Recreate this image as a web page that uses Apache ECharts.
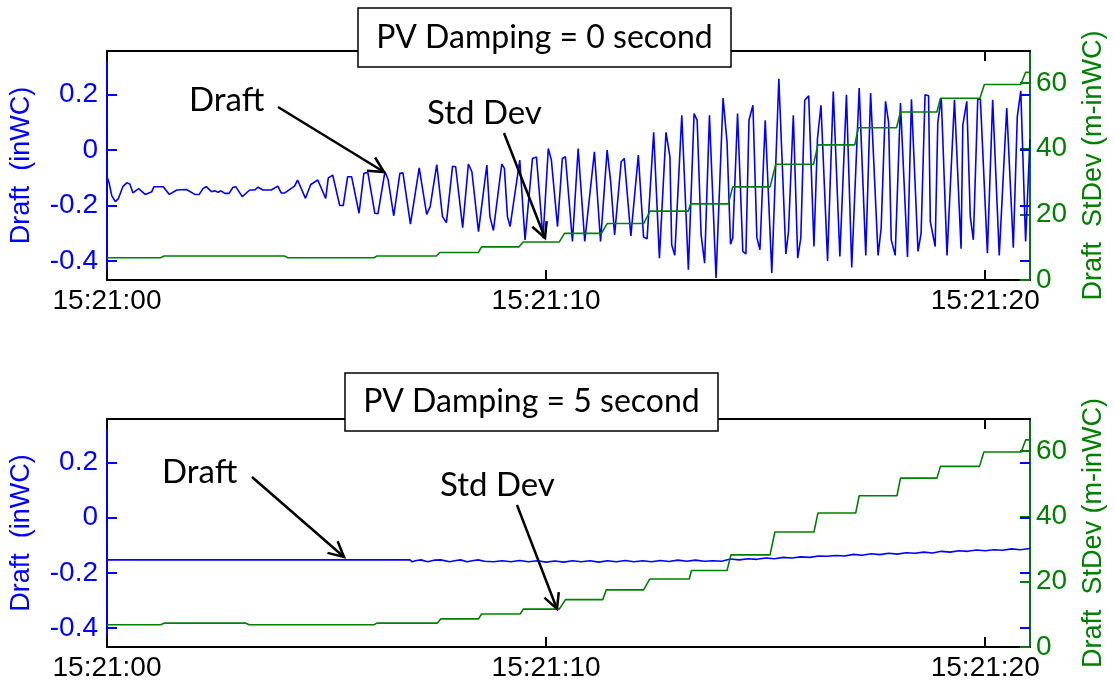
<!DOCTYPE html>
<html><head><meta charset="utf-8">
<script src="https://cdn.jsdelivr.net/npm/echarts@6/dist/echarts.min.js"></script>
<style>html,body{margin:0;padding:0;background:#fff}#c{width:1115px;height:683px}</style>
</head><body><div id="c"></div>
<script>
// ---- tick positions / labels ----
const timeTicks = [0, 10, 20];
const timeTickLabels = ['15:21:00', '15:21:10', '15:21:20'];
const draftTicks = [-0.4, -0.2, 0, 0.2];
const stdTicks = [0, 20, 40, 60];
const panelTitles = ['PV Damping = 0 second', 'PV Damping = 5 second'];

// ---- top panel (damping 0 s): Draft (inWC) ----
const topDraftT = [0.00,0.05,0.11,0.19,0.26,0.36,0.45,0.52,0.59,0.72,0.87,1.02,1.07,1.28,1.42,1.59,1.81,2.00,2.10,2.19,2.26,2.38,2.45,2.53,2.60,2.68,2.78,2.87,2.93,3.08,3.25,3.36,3.44,3.55,3.74,3.89,3.97,4.04,4.27,4.34,4.52,4.64,4.80,4.98,5.04,5.14,5.30,5.38,5.48,5.57,5.74,5.85,5.94,6.10,6.17,6.33,6.40,6.53,6.67,6.74,6.91,7.11,7.28,7.36,7.51,7.64,7.73,7.87,7.94,8.10,8.23,8.31,8.46,8.65,8.72,8.80,8.99,9.05,9.12,9.18,9.40,9.52,9.56,9.69,9.78,9.93,10.05,10.12,10.26,10.37,10.44,10.60,10.73,10.88,11.10,11.24,11.39,11.47,11.56,11.71,11.78,11.93,12.10,12.22,12.30,12.45,12.58,12.73,12.82,12.86,12.93,13.09,13.24,13.37,13.44,13.53,13.61,13.72,13.87,14.03,14.12,14.20,14.25,14.36,14.48,14.55,14.62,14.71,14.80,14.87,14.99,15.14,15.30,15.46,15.52,15.63,15.73,15.80,15.89,15.98,16.10,16.18,16.26,16.41,16.54,16.69,16.84,16.96,17.13,17.28,17.39,17.56,17.63,17.73,17.80,17.86,17.95,18.07,18.23,18.32,18.47,18.54,18.63,18.71,18.75,18.86,18.92,19.00,19.13,19.30,19.45,19.49,19.58,19.66,19.73,19.83,19.89,20.05,20.17,20.32,20.49,20.64,20.73,20.81,20.92,21.02];
const topDraftV = [-0.096,-0.120,-0.165,-0.186,-0.175,-0.132,-0.118,-0.122,-0.154,-0.139,-0.160,-0.150,-0.132,-0.132,-0.160,-0.144,-0.142,-0.160,-0.160,-0.138,-0.132,-0.150,-0.147,-0.152,-0.147,-0.156,-0.156,-0.134,-0.132,-0.168,-0.144,-0.144,-0.134,-0.144,-0.144,-0.130,-0.155,-0.155,-0.130,-0.108,-0.174,-0.124,-0.108,-0.174,-0.100,-0.090,-0.200,-0.200,-0.096,-0.096,-0.228,-0.084,-0.080,-0.228,-0.230,-0.078,-0.105,-0.237,-0.084,-0.082,-0.267,-0.064,-0.232,-0.204,-0.052,-0.240,-0.262,-0.058,-0.060,-0.280,-0.050,-0.078,-0.294,-0.054,-0.240,-0.290,-0.050,-0.066,-0.240,-0.276,-0.036,-0.324,-0.324,-0.030,-0.025,-0.318,0.006,-0.036,-0.276,-0.030,-0.024,-0.330,0.006,-0.330,-0.006,-0.330,0.000,-0.114,-0.306,-0.042,-0.030,-0.310,-0.018,-0.314,-0.320,0.064,-0.390,0.064,-0.024,-0.342,-0.380,0.126,-0.432,0.132,0.108,-0.306,-0.408,0.126,-0.462,0.188,0.030,-0.340,-0.317,0.132,-0.366,-0.375,0.108,0.162,-0.316,-0.360,0.108,-0.444,0.258,-0.375,-0.294,0.126,-0.390,-0.318,0.180,0.196,-0.348,0.042,0.162,-0.400,0.212,-0.384,0.200,-0.424,0.224,-0.380,0.206,-0.380,-0.282,0.176,0.100,-0.324,-0.380,0.170,-0.386,0.184,-0.366,-0.300,0.200,0.196,-0.258,-0.348,0.100,0.188,-0.380,0.182,-0.356,0.090,0.176,-0.240,-0.324,0.184,0.184,-0.372,0.182,-0.380,0.152,-0.352,0.120,0.214,-0.330,0.040];

// ---- top panel: Draft StDev (m-inWC) ----
const topStdT = [0,1.22,1.30,4.04,4.12,6.08,6.15,7.50,7.58,8.46,8.53,9.38,9.48,10.30,10.42,11.26,11.39,12.22,12.37,13.24,13.29,14.15,14.25,15.10,15.23,16.09,16.19,17.03,17.11,17.98,18.07,18.90,18.98,19.88,19.98,20.81,20.92,21.02];
const topStdV = [6.8,6.8,7.3,7.3,6.8,6.8,7.3,7.3,8.4,8.4,10.1,10.1,11.6,11.6,14.2,14.2,17.2,17.2,21.0,21.0,23.2,23.2,28.4,28.4,35.3,35.3,41.2,41.2,46.4,46.4,51.2,51.2,55.4,55.4,59.6,59.6,63.3,63.3];

// ---- bottom panel (damping 5 s): Draft (inWC) ----
const botDraftT = [0,6.90,6.95,7.05,7.15,7.30,7.45,7.60,7.80,7.95,8.05,8.20,8.35,8.45,8.60,8.80,9.00,9.20,9.40,9.60,9.80,10.00,10.20,10.40,10.60,10.80,11.00,11.20,11.40,11.60,11.80,12.00,12.20,12.40,12.60,12.80,13.00,13.20,13.40,13.60,13.80,14.00,14.20,14.40,14.60,14.80,15.00,15.20,15.40,15.60,15.80,16.00,16.20,16.40,16.60,16.80,17.00,17.20,17.40,17.60,17.80,18.00,18.20,18.40,18.60,18.80,19.00,19.20,19.40,19.60,19.80,20.00,20.20,20.40,20.60,20.80,21.02];
const botDraftV = [-0.153,-0.153,-0.160,-0.155,-0.153,-0.160,-0.154,-0.153,-0.160,-0.155,-0.153,-0.160,-0.155,-0.153,-0.158,-0.160,-0.156,-0.160,-0.155,-0.160,-0.156,-0.161,-0.157,-0.161,-0.156,-0.160,-0.156,-0.161,-0.156,-0.160,-0.155,-0.160,-0.156,-0.160,-0.155,-0.159,-0.154,-0.158,-0.154,-0.158,-0.156,-0.158,-0.150,-0.153,-0.149,-0.151,-0.146,-0.149,-0.144,-0.146,-0.142,-0.144,-0.139,-0.140,-0.137,-0.139,-0.133,-0.136,-0.131,-0.134,-0.129,-0.132,-0.127,-0.129,-0.125,-0.128,-0.122,-0.125,-0.120,-0.122,-0.117,-0.120,-0.116,-0.118,-0.113,-0.116,-0.112];

// ---- bottom panel: Draft StDev (m-inWC) ----
const botStdT = [0,1.22,1.30,3.16,3.24,6.08,6.15,7.52,7.60,8.46,8.53,9.41,9.48,10.30,10.44,11.29,11.37,12.22,12.36,13.26,13.31,14.12,14.21,15.10,15.21,16.10,16.19,17.05,17.13,17.99,18.07,18.90,18.98,19.87,19.97,20.82,20.92,21.02];
const botStdV = [6.8,6.8,7.3,7.3,6.8,6.8,7.3,7.3,8.6,8.6,10.1,10.1,11.6,11.6,14.5,14.5,17.5,17.5,20.8,20.8,23.4,23.4,28.2,28.2,35.2,35.2,41.0,41.0,46.3,46.3,51.7,51.7,55.3,55.3,59.7,59.7,63.4,63.4];

const BLUE = '#0000ff', GREEN = '#008000', GREEN_AX = '#0b6e1a';
const TICKFONT = 'Liberation Sans';
const pair = (t, v) => t.map((x, i) => [x, v[i]]);

const grids = [
  {left: 107, right: 80, top: 51, height: 229},
  {left: 107, right: 80, top: 419, height: 228}
];
const X_MAX = 21.02, D_MIN = -0.469, D_MAX = 0.358, S_MAX = 69.8;

const xAxes = [], yAxes = [];
grids.forEach((g, i) => {
  xAxes.push({
    type: 'value', gridIndex: i, position: 'bottom', min: 0, max: X_MAX,
    axisLine: {onZero: false, lineStyle: {color: '#000', width: 2}},
    axisTick: {inside: true, length: 10, customValues: timeTicks, lineStyle: {color: '#000', width: 2}},
    axisLabel: {customValues: timeTicks, formatter: v => timeTickLabels[timeTicks.indexOf(v)],
      color: '#000', fontSize: 28, fontFamily: TICKFONT, margin: 7},
    splitLine: {show: false}
  });
  xAxes.push({
    type: 'value', gridIndex: i, position: 'top', min: 0, max: X_MAX,
    axisLine: {onZero: false, lineStyle: {color: '#000', width: 2}},
    axisTick: {inside: true, length: 10, customValues: timeTicks, lineStyle: {color: '#000', width: 2}},
    axisLabel: {show: false}, splitLine: {show: false}
  });
  yAxes.push({
    type: 'value', gridIndex: i, position: 'left', min: D_MIN, max: D_MAX,
    axisLine: {show: true, onZero: false, lineStyle: {color: BLUE, width: 2}},
    axisTick: {show: true, inside: true, length: 10, customValues: draftTicks, lineStyle: {color: BLUE, width: 2}},
    axisLabel: {customValues: draftTicks, formatter: v => (Math.abs(v) < 1e-9 ? '0' : v.toFixed(1)),
      color: BLUE, fontSize: 28, fontFamily: TICKFONT, margin: 9},
    name: 'Draft  (inWC)', nameLocation: 'middle', nameGap: 72, nameRotate: 90,
    nameTextStyle: {color: BLUE, fontSize: 27, fontFamily: TICKFONT},
    splitLine: {show: false}
  });
  yAxes.push({
    type: 'value', gridIndex: i, position: 'right', min: 0, max: S_MAX,
    axisLine: {show: true, onZero: false, lineStyle: {color: GREEN_AX, width: 2}},
    axisTick: {show: true, inside: true, length: 10, customValues: stdTicks, lineStyle: {color: GREEN, width: 2}},
    axisLabel: {customValues: stdTicks, color: GREEN, fontSize: 28, fontFamily: TICKFONT, margin: 6},
    name: 'Draft  StDev (m-inWC)', nameLocation: 'middle', nameGap: 50, nameRotate: 90,
    nameTextStyle: {color: GREEN, fontSize: 27, fontFamily: TICKFONT},
    splitLine: {show: false}
  });
  yAxes.push({
    type: 'value', gridIndex: i, position: 'right', min: D_MIN, max: D_MAX,
    axisLine: {show: false, onZero: false},
    axisTick: {show: true, inside: true, length: 10, customValues: draftTicks, lineStyle: {color: BLUE, width: 2}},
    axisLabel: {show: false}, splitLine: {show: false}
  });
});

const lineSeries = (data, xi, yi, color, w) => ({
  type: 'line', xAxisIndex: xi, yAxisIndex: yi, data: data, symbol: 'none',
  lineStyle: {color: color, width: w}, itemStyle: {color: color}, silent: true, z: 3
});

function arrow(x1, y1, x2, y2) {
  const ang = Math.atan2(y1 - y2, x1 - x2), L = 17, a = 27 * Math.PI / 180;
  const style = {stroke: '#000', lineWidth: 2.5, fill: null};
  return [
    {type: 'line', shape: {x1: x1, y1: y1, x2: x2, y2: y2}, style: style, z: 100},
    {type: 'polyline', shape: {points: [
      [x2 + L * Math.cos(ang + a), y2 + L * Math.sin(ang + a)], [x2, y2],
      [x2 + L * Math.cos(ang - a), y2 + L * Math.sin(ang - a)]]}, style: style, z: 100}
  ];
}
function label(text, x, y) {
  return {type: 'text', x: x, y: y, z: 100,
    style: {text: text, fill: '#000', font: '33px Lato', textAlign: 'left', textVerticalAlign: 'middle'}};
}
function titleBox(text, x, y, w, h) {
  return [
    {type: 'rect', shape: {x: x, y: y, width: w, height: h}, style: {fill: '#fff', stroke: '#000', lineWidth: 1.5}, z: 100},
    {type: 'text', x: x + w / 2, y: y + h / 2, z: 101,
      style: {text: text, fill: '#000', font: '32px Lato', textAlign: 'center', textVerticalAlign: 'middle'}}
  ];
}

const chart = echarts.init(document.getElementById('c'), null, {renderer: 'canvas'});
chart.setOption({
  animation: false,
  backgroundColor: '#fff',
  grid: grids,
  xAxis: xAxes,
  yAxis: yAxes,
  series: [
    lineSeries(pair(topDraftT, topDraftV), 0, 0, BLUE, 1.6),
    lineSeries(pair(topStdT, topStdV), 0, 1, GREEN, 1.6),
    lineSeries(pair(botDraftT, botDraftV), 2, 3, BLUE, 1.6),
    lineSeries(pair(botStdT, botStdV), 2, 4, GREEN, 1.6)
  ],
  graphic: [].concat(
    titleBox(panelTitles[0], 358, 8, 373, 59),
    titleBox(panelTitles[1], 345, 373, 373, 58),
    label('Draft', 189, 100),
    arrow(278, 107, 384, 172),
    label('Std Dev', 427, 113),
    arrow(504, 133, 545, 238),
    label('Draft', 162, 472),
    arrow(252, 477, 344, 557),
    label('Std Dev', 440, 485),
    arrow(517, 505, 557, 609)
  )
});
</script>
</body></html>
